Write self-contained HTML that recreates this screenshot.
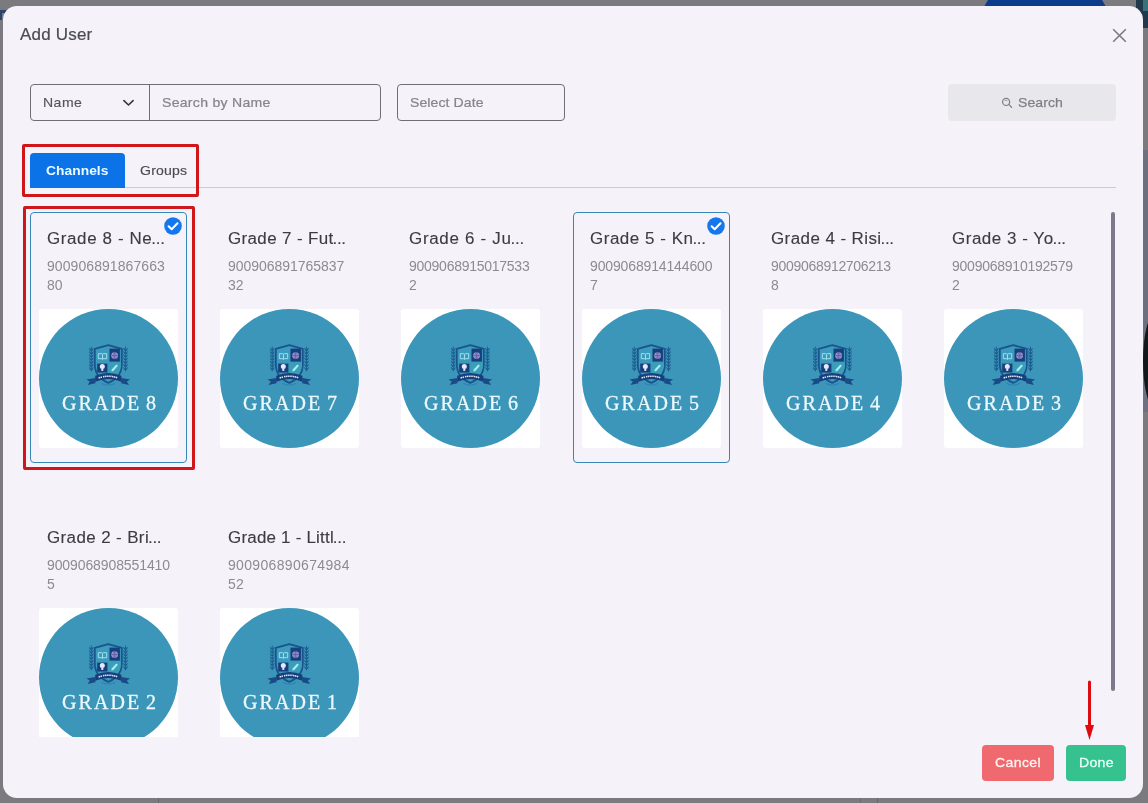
<!DOCTYPE html>
<html><head><meta charset="utf-8">
<style>
*{box-sizing:border-box;margin:0;padding:0}
html,body{width:1148px;height:803px;overflow:hidden}
body{background:#7b7b7f;font-family:"Liberation Sans",sans-serif;position:relative}
.abs{position:absolute}
#modal{position:absolute;left:3px;top:6px;width:1140px;height:791.5px;background:#f5f3f9;border-radius:14px}
.t{position:absolute;white-space:nowrap;line-height:1;will-change:transform;transform-origin:0 0}
.w8{transform:scaleX(1.08)}.w6{transform:scaleX(1.06)}
.inp{position:absolute;border:1px solid #6e6e73;border-radius:4px;background:transparent}
.card{position:absolute;width:157px;height:251px;border:1px solid transparent;border-radius:4px}
.card.sel{border-color:#3886b6}
.el{letter-spacing:-.3px;margin-left:-1px}
.card .ti{will-change:transform;transform:scaleX(1.06);transform-origin:0 0;position:absolute;left:16px;top:18px;font-size:16px;color:#3c3c42;white-space:nowrap;line-height:1;letter-spacing:1px;-webkit-text-stroke:.12px #3c3c42}
.card .nu{will-change:transform;position:absolute;left:16px;top:44px;font-size:14px;color:#8b8b90;line-height:19px;white-space:nowrap;letter-spacing:.07px}
.card .im{position:absolute;left:8px;top:96px;width:139px;height:139px;background:#fff;overflow:hidden;border-radius:3px}
.card .ci{position:absolute;left:0;top:0;width:139px;height:139px;border-radius:50%;background:#3b96b9}
.card .gr{will-change:transform;position:absolute;left:0;width:139px;top:84px;padding-left:3px;text-align:center;font-family:"Liberation Serif",serif;font-size:20px;color:#ecf8fb;letter-spacing:2.05px;word-spacing:-2.3px;-webkit-text-stroke:.3px #ecf8fb;line-height:1;white-space:nowrap}
.cr{position:absolute;left:0;top:0}
.chk{position:absolute;left:133px;top:4.4px;width:18px;height:18px}
</style></head><body>
<!-- background bits -->
<div class="abs" style="left:977px;top:-31px;width:136px;height:136px;border-radius:50%;background:#0b3d8c"></div>
<div class="abs" style="left:1136px;top:0;width:12px;height:28px;background:#22394c"></div>
<div class="abs" style="left:1143px;top:0;width:5px;height:11px;background:#35727a"></div>
<div class="abs" style="left:1142px;top:150px;width:6px;height:262px;background:#6b7180"></div>
<div class="abs" style="left:158px;top:797px;width:1px;height:6px;background:#68686c"></div><div class="abs" style="left:860px;top:797px;width:1px;height:6px;background:#6c6c70"></div><div class="abs" style="left:877px;top:797px;width:1px;height:6px;background:#68686c"></div>
<div class="abs" style="left:1142.5px;top:314px;width:24px;height:94px;border-radius:50%;background:#10191c"></div>
<div class="abs" style="left:0;top:10px;width:6px;height:3px;background:#2a456e"></div><div class="abs" style="left:0;top:10px;width:2px;height:10px;background:#2a456e"></div>
<div id="modal"></div>

<div class="t" id="title" style="left:20px;top:26px;font-size:17px;color:#4a4a52;letter-spacing:.2px;-webkit-text-stroke:.2px #4a4a52">Add User</div>
<svg class="abs" style="left:1112px;top:28px" width="15" height="15" viewBox="0 0 15 15"><path d="M1.2 1.2 L13.8 13.8 M13.8 1.2 L1.2 13.8" stroke="#77777c" stroke-width="1.5" fill="none"/></svg>

<!-- inputs -->
<div class="inp" style="left:30px;top:84px;width:351px;height:37px"></div>
<div class="abs" style="left:149px;top:84px;width:1px;height:37px;background:#6e6e73"></div>
<div class="t w8" style="left:43px;top:96px;font-size:13px;color:#55555b;letter-spacing:.43px;-webkit-text-stroke:.15px #55555b">Name</div>
<svg class="abs" style="left:122.4px;top:98.8px" width="13" height="9" viewBox="0 0 13 9"><path d="M1.9 1.6 L6.5 6 L11.1 1.6" stroke="#35353b" stroke-width="1.6" fill="none" stroke-linecap="round" stroke-linejoin="round"/></svg>
<div class="t w8" style="left:162px;top:96px;font-size:13px;color:#85858b;letter-spacing:.27px;-webkit-text-stroke:.22px #85858b">Search by Name</div>
<div class="inp" style="left:397px;top:84px;width:168px;height:37px"></div>
<div class="t w8" style="left:410px;top:96px;font-size:13px;color:#85858b;letter-spacing:.08px;-webkit-text-stroke:.22px #85858b">Select Date</div>
<div class="abs" style="left:948px;top:84px;width:168px;height:37px;background:#e8e8ec;border-radius:4px"></div>
<svg class="abs" style="left:1001.3px;top:97.4px" width="12" height="12" viewBox="0 0 12 12"><circle cx="5.1" cy="4.9" r="3.5" stroke="#7f7f87" stroke-width="1.25" fill="none"/><path d="M7.8 7.4 L10.6 10.4" stroke="#7f7f87" stroke-width="1.3" stroke-linecap="round"/><path d="M3.8 3.6 Q5 3 6.4 3.9" stroke="#7f7f87" stroke-width=".7" fill="none"/></svg>
<div class="t w8" style="left:1018px;top:96px;font-size:13px;color:#7f7f86;letter-spacing:.08px;-webkit-text-stroke:.25px #7f7f86">Search</div>

<!-- tabs -->
<div class="abs" style="left:30px;top:187px;width:1086px;height:1px;background:#cbcbd2"></div>
<div class="abs" style="left:30px;top:153px;width:95px;height:35px;background:#0c72e8;border-radius:4px 4px 0 0"></div>
<div class="t w6" style="left:46px;top:164px;font-size:13px;color:#e9fcff;font-weight:bold;letter-spacing:.05px">Channels</div>
<div class="t w8" style="left:140px;top:164px;font-size:13px;color:#4a4a50;letter-spacing:.2px;-webkit-text-stroke:.15px #4a4a50">Groups</div>
<div class="abs" style="left:22px;top:144px;width:177px;height:53px;border:3px solid #d0161b;border-radius:2px"></div>

<!-- cards -->
<div id="cards" class="abs" style="left:0;top:205px;width:1120px;height:532px;overflow:hidden">
<div class="card sel" style="left:30px;top:7px"><div class="ti" style="letter-spacing:0.58px">Grade 8 - Ne<span class='el'>...</span></div><div class="nu" style="letter-spacing:0.07px">900906891867663<br>80</div><div class="im"><div class="ci"></div><svg class="cr" width="139" height="139" viewBox="0 0 139 139">
<path d="M52.3 38 L52.3 62 M86.5 38 L86.5 62" fill="none" stroke="#1b568c" stroke-width=".8" stroke-linecap="round"/>
<path d="M52.3 41.6 L50.4 39.0 L50.8 41.2 Z M52.3 41.6 L54.199999999999996 39.0 L53.8 41.2 Z M52.3 44.8 L50.4 42.199999999999996 L50.8 44.4 Z M52.3 44.8 L54.199999999999996 42.199999999999996 L53.8 44.4 Z M52.3 48.0 L50.4 45.4 L50.8 47.6 Z M52.3 48.0 L54.199999999999996 45.4 L53.8 47.6 Z M52.3 51.199999999999996 L50.4 48.599999999999994 L50.8 50.8 Z M52.3 51.199999999999996 L54.199999999999996 48.599999999999994 L53.8 50.8 Z M52.3 54.4 L50.4 51.8 L50.8 54 Z M52.3 54.4 L54.199999999999996 51.8 L53.8 54 Z M52.3 57.6 L50.4 55.0 L50.8 57.2 Z M52.3 57.6 L54.199999999999996 55.0 L53.8 57.2 Z M52.3 60.8 L50.4 58.199999999999996 L50.8 60.4 Z M52.3 60.8 L54.199999999999996 58.199999999999996 L53.8 60.4 Z M86.5 41.6 L84.6 39.0 L85.0 41.2 Z M86.5 41.6 L88.4 39.0 L88.0 41.2 Z M86.5 44.8 L84.6 42.199999999999996 L85.0 44.4 Z M86.5 44.8 L88.4 42.199999999999996 L88.0 44.4 Z M86.5 48.0 L84.6 45.4 L85.0 47.6 Z M86.5 48.0 L88.4 45.4 L88.0 47.6 Z M86.5 51.199999999999996 L84.6 48.599999999999994 L85.0 50.8 Z M86.5 51.199999999999996 L88.4 48.599999999999994 L88.0 50.8 Z M86.5 54.4 L84.6 51.8 L85.0 54 Z M86.5 54.4 L88.4 51.8 L88.0 54 Z M86.5 57.6 L84.6 55.0 L85.0 57.2 Z M86.5 57.6 L88.4 55.0 L88.0 57.2 Z M86.5 60.8 L84.6 58.199999999999996 L85.0 60.4 Z M86.5 60.8 L88.4 58.199999999999996 L88.0 60.4 Z" fill="#1b568c" stroke="#1b568c" stroke-width=".35" stroke-linejoin="round"/>
<path d="M69.3 36.2 L82.8 39.8 L82.8 55 C82.8 65 76.5 71 69.3 73.8 C62.1 71 55.8 65 55.8 55 L55.8 39.8 Z" fill="#3c9abc" stroke="#19558c" stroke-width="1.8" stroke-linejoin="round"/>
<path d="M69.3 53.5 L82 53.5 L82 56 C81.6 63 78 68 69.3 72 Z" fill="#3b9eb9"/>
<rect x="70.5" y="39.6" width="10.4" height="13" fill="#173f7c"/>
<rect x="58.2" y="54.6" width="10.2" height="8.9" fill="#173f7c"/>
<circle cx="75.6" cy="46.6" r="3.4" fill="#a29fd6"/>
<path d="M72.2 46.6 h6.8 M75.6 43.2 v6.8" stroke="#4a4a94" stroke-width=".6"/>
<ellipse cx="75.6" cy="46.6" rx="1.6" ry="3.4" fill="none" stroke="#4a4a94" stroke-width=".5"/>
<path d="M59.3 44.7 h3.5 l.7 .6 l.7 -.6 h3.5 v5 h-3.5 l-.7 .6 l-.7 -.6 h-3.5 z M63.5 45.3 v5" fill="none" stroke="#a9e6f3" stroke-width=".9"/>
<circle cx="63.3" cy="57.6" r="2.5" fill="#e6e9fb"/><rect x="62.3" y="59.6" width="2" height="2.3" fill="#e6e9fb"/>
<path d="M72.7 60.6 L77.3 55.6 L78.9 56.8 L74.3 61.9 L72.4 62.4 Z" fill="#a9ecf4"/>
<path d="M62.5 74.4 Q69.3 77.8 76.1 74.4" stroke="#2a7db3" stroke-width=".9" fill="none"/>
<path d="M56.4 69 L47.4 70.4 L50.8 72.6 L48.6 76 L56.4 74.2 Z" fill="#194c86"/>
<path d="M82.2 69 L91.2 70.4 L87.8 72.6 L90 76 L82.2 74.2 Z" fill="#194c86"/>
<path d="M56.2 66.8 Q69.3 61.4 82.4 66.8 L82.4 72.8 Q69.3 67.4 56.2 72.8 Z" fill="#163f7c"/>
<path d="M59.6 69.1 Q69.3 65.2 79 69.1" stroke="#dfe6f4" stroke-width="1.5" stroke-dasharray="1.5 .5 1.4 1.1 1.3 .5 1.4 .5 1.3 .5 1.4 .5 1.3 .5 1.4 .5" fill="none"/>
</svg><div class="gr">GRADE 8</div></div><svg class="chk" viewBox="0 0 18 18"><circle cx="9" cy="9" r="8.8" fill="#1577ee"/><path d="M4.6 9.3 L7.7 12.3 L13.5 6.2" stroke="#fff" stroke-width="2" fill="none" stroke-linecap="round" stroke-linejoin="round"/></svg></div>
<div class="card" style="left:211px;top:7px"><div class="ti" style="letter-spacing:0.34px">Grade 7 - Fut<span class='el'>...</span></div><div class="nu" style="letter-spacing:-0.03px">900906891765837<br>32</div><div class="im"><div class="ci"></div><svg class="cr" width="139" height="139" viewBox="0 0 139 139">
<path d="M52.3 38 L52.3 62 M86.5 38 L86.5 62" fill="none" stroke="#1b568c" stroke-width=".8" stroke-linecap="round"/>
<path d="M52.3 41.6 L50.4 39.0 L50.8 41.2 Z M52.3 41.6 L54.199999999999996 39.0 L53.8 41.2 Z M52.3 44.8 L50.4 42.199999999999996 L50.8 44.4 Z M52.3 44.8 L54.199999999999996 42.199999999999996 L53.8 44.4 Z M52.3 48.0 L50.4 45.4 L50.8 47.6 Z M52.3 48.0 L54.199999999999996 45.4 L53.8 47.6 Z M52.3 51.199999999999996 L50.4 48.599999999999994 L50.8 50.8 Z M52.3 51.199999999999996 L54.199999999999996 48.599999999999994 L53.8 50.8 Z M52.3 54.4 L50.4 51.8 L50.8 54 Z M52.3 54.4 L54.199999999999996 51.8 L53.8 54 Z M52.3 57.6 L50.4 55.0 L50.8 57.2 Z M52.3 57.6 L54.199999999999996 55.0 L53.8 57.2 Z M52.3 60.8 L50.4 58.199999999999996 L50.8 60.4 Z M52.3 60.8 L54.199999999999996 58.199999999999996 L53.8 60.4 Z M86.5 41.6 L84.6 39.0 L85.0 41.2 Z M86.5 41.6 L88.4 39.0 L88.0 41.2 Z M86.5 44.8 L84.6 42.199999999999996 L85.0 44.4 Z M86.5 44.8 L88.4 42.199999999999996 L88.0 44.4 Z M86.5 48.0 L84.6 45.4 L85.0 47.6 Z M86.5 48.0 L88.4 45.4 L88.0 47.6 Z M86.5 51.199999999999996 L84.6 48.599999999999994 L85.0 50.8 Z M86.5 51.199999999999996 L88.4 48.599999999999994 L88.0 50.8 Z M86.5 54.4 L84.6 51.8 L85.0 54 Z M86.5 54.4 L88.4 51.8 L88.0 54 Z M86.5 57.6 L84.6 55.0 L85.0 57.2 Z M86.5 57.6 L88.4 55.0 L88.0 57.2 Z M86.5 60.8 L84.6 58.199999999999996 L85.0 60.4 Z M86.5 60.8 L88.4 58.199999999999996 L88.0 60.4 Z" fill="#1b568c" stroke="#1b568c" stroke-width=".35" stroke-linejoin="round"/>
<path d="M69.3 36.2 L82.8 39.8 L82.8 55 C82.8 65 76.5 71 69.3 73.8 C62.1 71 55.8 65 55.8 55 L55.8 39.8 Z" fill="#3c9abc" stroke="#19558c" stroke-width="1.8" stroke-linejoin="round"/>
<path d="M69.3 53.5 L82 53.5 L82 56 C81.6 63 78 68 69.3 72 Z" fill="#3b9eb9"/>
<rect x="70.5" y="39.6" width="10.4" height="13" fill="#173f7c"/>
<rect x="58.2" y="54.6" width="10.2" height="8.9" fill="#173f7c"/>
<circle cx="75.6" cy="46.6" r="3.4" fill="#a29fd6"/>
<path d="M72.2 46.6 h6.8 M75.6 43.2 v6.8" stroke="#4a4a94" stroke-width=".6"/>
<ellipse cx="75.6" cy="46.6" rx="1.6" ry="3.4" fill="none" stroke="#4a4a94" stroke-width=".5"/>
<path d="M59.3 44.7 h3.5 l.7 .6 l.7 -.6 h3.5 v5 h-3.5 l-.7 .6 l-.7 -.6 h-3.5 z M63.5 45.3 v5" fill="none" stroke="#a9e6f3" stroke-width=".9"/>
<circle cx="63.3" cy="57.6" r="2.5" fill="#e6e9fb"/><rect x="62.3" y="59.6" width="2" height="2.3" fill="#e6e9fb"/>
<path d="M72.7 60.6 L77.3 55.6 L78.9 56.8 L74.3 61.9 L72.4 62.4 Z" fill="#a9ecf4"/>
<path d="M62.5 74.4 Q69.3 77.8 76.1 74.4" stroke="#2a7db3" stroke-width=".9" fill="none"/>
<path d="M56.4 69 L47.4 70.4 L50.8 72.6 L48.6 76 L56.4 74.2 Z" fill="#194c86"/>
<path d="M82.2 69 L91.2 70.4 L87.8 72.6 L90 76 L82.2 74.2 Z" fill="#194c86"/>
<path d="M56.2 66.8 Q69.3 61.4 82.4 66.8 L82.4 72.8 Q69.3 67.4 56.2 72.8 Z" fill="#163f7c"/>
<path d="M59.6 69.1 Q69.3 65.2 79 69.1" stroke="#dfe6f4" stroke-width="1.5" stroke-dasharray="1.5 .5 1.4 1.1 1.3 .5 1.4 .5 1.3 .5 1.4 .5 1.3 .5 1.4 .5" fill="none"/>
</svg><div class="gr">GRADE 7</div></div></div>
<div class="card" style="left:392px;top:7px"><div class="ti" style="letter-spacing:0.66px">Grade 6 - Ju<span class='el'>...</span></div><div class="nu" style="letter-spacing:-0.26px">9009068915017533<br>2</div><div class="im"><div class="ci"></div><svg class="cr" width="139" height="139" viewBox="0 0 139 139">
<path d="M52.3 38 L52.3 62 M86.5 38 L86.5 62" fill="none" stroke="#1b568c" stroke-width=".8" stroke-linecap="round"/>
<path d="M52.3 41.6 L50.4 39.0 L50.8 41.2 Z M52.3 41.6 L54.199999999999996 39.0 L53.8 41.2 Z M52.3 44.8 L50.4 42.199999999999996 L50.8 44.4 Z M52.3 44.8 L54.199999999999996 42.199999999999996 L53.8 44.4 Z M52.3 48.0 L50.4 45.4 L50.8 47.6 Z M52.3 48.0 L54.199999999999996 45.4 L53.8 47.6 Z M52.3 51.199999999999996 L50.4 48.599999999999994 L50.8 50.8 Z M52.3 51.199999999999996 L54.199999999999996 48.599999999999994 L53.8 50.8 Z M52.3 54.4 L50.4 51.8 L50.8 54 Z M52.3 54.4 L54.199999999999996 51.8 L53.8 54 Z M52.3 57.6 L50.4 55.0 L50.8 57.2 Z M52.3 57.6 L54.199999999999996 55.0 L53.8 57.2 Z M52.3 60.8 L50.4 58.199999999999996 L50.8 60.4 Z M52.3 60.8 L54.199999999999996 58.199999999999996 L53.8 60.4 Z M86.5 41.6 L84.6 39.0 L85.0 41.2 Z M86.5 41.6 L88.4 39.0 L88.0 41.2 Z M86.5 44.8 L84.6 42.199999999999996 L85.0 44.4 Z M86.5 44.8 L88.4 42.199999999999996 L88.0 44.4 Z M86.5 48.0 L84.6 45.4 L85.0 47.6 Z M86.5 48.0 L88.4 45.4 L88.0 47.6 Z M86.5 51.199999999999996 L84.6 48.599999999999994 L85.0 50.8 Z M86.5 51.199999999999996 L88.4 48.599999999999994 L88.0 50.8 Z M86.5 54.4 L84.6 51.8 L85.0 54 Z M86.5 54.4 L88.4 51.8 L88.0 54 Z M86.5 57.6 L84.6 55.0 L85.0 57.2 Z M86.5 57.6 L88.4 55.0 L88.0 57.2 Z M86.5 60.8 L84.6 58.199999999999996 L85.0 60.4 Z M86.5 60.8 L88.4 58.199999999999996 L88.0 60.4 Z" fill="#1b568c" stroke="#1b568c" stroke-width=".35" stroke-linejoin="round"/>
<path d="M69.3 36.2 L82.8 39.8 L82.8 55 C82.8 65 76.5 71 69.3 73.8 C62.1 71 55.8 65 55.8 55 L55.8 39.8 Z" fill="#3c9abc" stroke="#19558c" stroke-width="1.8" stroke-linejoin="round"/>
<path d="M69.3 53.5 L82 53.5 L82 56 C81.6 63 78 68 69.3 72 Z" fill="#3b9eb9"/>
<rect x="70.5" y="39.6" width="10.4" height="13" fill="#173f7c"/>
<rect x="58.2" y="54.6" width="10.2" height="8.9" fill="#173f7c"/>
<circle cx="75.6" cy="46.6" r="3.4" fill="#a29fd6"/>
<path d="M72.2 46.6 h6.8 M75.6 43.2 v6.8" stroke="#4a4a94" stroke-width=".6"/>
<ellipse cx="75.6" cy="46.6" rx="1.6" ry="3.4" fill="none" stroke="#4a4a94" stroke-width=".5"/>
<path d="M59.3 44.7 h3.5 l.7 .6 l.7 -.6 h3.5 v5 h-3.5 l-.7 .6 l-.7 -.6 h-3.5 z M63.5 45.3 v5" fill="none" stroke="#a9e6f3" stroke-width=".9"/>
<circle cx="63.3" cy="57.6" r="2.5" fill="#e6e9fb"/><rect x="62.3" y="59.6" width="2" height="2.3" fill="#e6e9fb"/>
<path d="M72.7 60.6 L77.3 55.6 L78.9 56.8 L74.3 61.9 L72.4 62.4 Z" fill="#a9ecf4"/>
<path d="M62.5 74.4 Q69.3 77.8 76.1 74.4" stroke="#2a7db3" stroke-width=".9" fill="none"/>
<path d="M56.4 69 L47.4 70.4 L50.8 72.6 L48.6 76 L56.4 74.2 Z" fill="#194c86"/>
<path d="M82.2 69 L91.2 70.4 L87.8 72.6 L90 76 L82.2 74.2 Z" fill="#194c86"/>
<path d="M56.2 66.8 Q69.3 61.4 82.4 66.8 L82.4 72.8 Q69.3 67.4 56.2 72.8 Z" fill="#163f7c"/>
<path d="M59.6 69.1 Q69.3 65.2 79 69.1" stroke="#dfe6f4" stroke-width="1.5" stroke-dasharray="1.5 .5 1.4 1.1 1.3 .5 1.4 .5 1.3 .5 1.4 .5 1.3 .5 1.4 .5" fill="none"/>
</svg><div class="gr">GRADE 6</div></div></div>
<div class="card sel" style="left:573px;top:7px"><div class="ti" style="letter-spacing:0.5px">Grade 5 - Kn<span class='el'>...</span></div><div class="nu" style="letter-spacing:-0.14px">9009068914144600<br>7</div><div class="im"><div class="ci"></div><svg class="cr" width="139" height="139" viewBox="0 0 139 139">
<path d="M52.3 38 L52.3 62 M86.5 38 L86.5 62" fill="none" stroke="#1b568c" stroke-width=".8" stroke-linecap="round"/>
<path d="M52.3 41.6 L50.4 39.0 L50.8 41.2 Z M52.3 41.6 L54.199999999999996 39.0 L53.8 41.2 Z M52.3 44.8 L50.4 42.199999999999996 L50.8 44.4 Z M52.3 44.8 L54.199999999999996 42.199999999999996 L53.8 44.4 Z M52.3 48.0 L50.4 45.4 L50.8 47.6 Z M52.3 48.0 L54.199999999999996 45.4 L53.8 47.6 Z M52.3 51.199999999999996 L50.4 48.599999999999994 L50.8 50.8 Z M52.3 51.199999999999996 L54.199999999999996 48.599999999999994 L53.8 50.8 Z M52.3 54.4 L50.4 51.8 L50.8 54 Z M52.3 54.4 L54.199999999999996 51.8 L53.8 54 Z M52.3 57.6 L50.4 55.0 L50.8 57.2 Z M52.3 57.6 L54.199999999999996 55.0 L53.8 57.2 Z M52.3 60.8 L50.4 58.199999999999996 L50.8 60.4 Z M52.3 60.8 L54.199999999999996 58.199999999999996 L53.8 60.4 Z M86.5 41.6 L84.6 39.0 L85.0 41.2 Z M86.5 41.6 L88.4 39.0 L88.0 41.2 Z M86.5 44.8 L84.6 42.199999999999996 L85.0 44.4 Z M86.5 44.8 L88.4 42.199999999999996 L88.0 44.4 Z M86.5 48.0 L84.6 45.4 L85.0 47.6 Z M86.5 48.0 L88.4 45.4 L88.0 47.6 Z M86.5 51.199999999999996 L84.6 48.599999999999994 L85.0 50.8 Z M86.5 51.199999999999996 L88.4 48.599999999999994 L88.0 50.8 Z M86.5 54.4 L84.6 51.8 L85.0 54 Z M86.5 54.4 L88.4 51.8 L88.0 54 Z M86.5 57.6 L84.6 55.0 L85.0 57.2 Z M86.5 57.6 L88.4 55.0 L88.0 57.2 Z M86.5 60.8 L84.6 58.199999999999996 L85.0 60.4 Z M86.5 60.8 L88.4 58.199999999999996 L88.0 60.4 Z" fill="#1b568c" stroke="#1b568c" stroke-width=".35" stroke-linejoin="round"/>
<path d="M69.3 36.2 L82.8 39.8 L82.8 55 C82.8 65 76.5 71 69.3 73.8 C62.1 71 55.8 65 55.8 55 L55.8 39.8 Z" fill="#3c9abc" stroke="#19558c" stroke-width="1.8" stroke-linejoin="round"/>
<path d="M69.3 53.5 L82 53.5 L82 56 C81.6 63 78 68 69.3 72 Z" fill="#3b9eb9"/>
<rect x="70.5" y="39.6" width="10.4" height="13" fill="#173f7c"/>
<rect x="58.2" y="54.6" width="10.2" height="8.9" fill="#173f7c"/>
<circle cx="75.6" cy="46.6" r="3.4" fill="#a29fd6"/>
<path d="M72.2 46.6 h6.8 M75.6 43.2 v6.8" stroke="#4a4a94" stroke-width=".6"/>
<ellipse cx="75.6" cy="46.6" rx="1.6" ry="3.4" fill="none" stroke="#4a4a94" stroke-width=".5"/>
<path d="M59.3 44.7 h3.5 l.7 .6 l.7 -.6 h3.5 v5 h-3.5 l-.7 .6 l-.7 -.6 h-3.5 z M63.5 45.3 v5" fill="none" stroke="#a9e6f3" stroke-width=".9"/>
<circle cx="63.3" cy="57.6" r="2.5" fill="#e6e9fb"/><rect x="62.3" y="59.6" width="2" height="2.3" fill="#e6e9fb"/>
<path d="M72.7 60.6 L77.3 55.6 L78.9 56.8 L74.3 61.9 L72.4 62.4 Z" fill="#a9ecf4"/>
<path d="M62.5 74.4 Q69.3 77.8 76.1 74.4" stroke="#2a7db3" stroke-width=".9" fill="none"/>
<path d="M56.4 69 L47.4 70.4 L50.8 72.6 L48.6 76 L56.4 74.2 Z" fill="#194c86"/>
<path d="M82.2 69 L91.2 70.4 L87.8 72.6 L90 76 L82.2 74.2 Z" fill="#194c86"/>
<path d="M56.2 66.8 Q69.3 61.4 82.4 66.8 L82.4 72.8 Q69.3 67.4 56.2 72.8 Z" fill="#163f7c"/>
<path d="M59.6 69.1 Q69.3 65.2 79 69.1" stroke="#dfe6f4" stroke-width="1.5" stroke-dasharray="1.5 .5 1.4 1.1 1.3 .5 1.4 .5 1.3 .5 1.4 .5 1.3 .5 1.4 .5" fill="none"/>
</svg><div class="gr">GRADE 5</div></div><svg class="chk" viewBox="0 0 18 18"><circle cx="9" cy="9" r="8.8" fill="#1577ee"/><path d="M4.6 9.3 L7.7 12.3 L13.5 6.2" stroke="#fff" stroke-width="2" fill="none" stroke-linecap="round" stroke-linejoin="round"/></svg></div>
<div class="card" style="left:754px;top:7px"><div class="ti" style="letter-spacing:0.4px">Grade 4 - Risi<span class='el'>...</span></div><div class="nu" style="letter-spacing:-0.3px">9009068912706213<br>8</div><div class="im"><div class="ci"></div><svg class="cr" width="139" height="139" viewBox="0 0 139 139">
<path d="M52.3 38 L52.3 62 M86.5 38 L86.5 62" fill="none" stroke="#1b568c" stroke-width=".8" stroke-linecap="round"/>
<path d="M52.3 41.6 L50.4 39.0 L50.8 41.2 Z M52.3 41.6 L54.199999999999996 39.0 L53.8 41.2 Z M52.3 44.8 L50.4 42.199999999999996 L50.8 44.4 Z M52.3 44.8 L54.199999999999996 42.199999999999996 L53.8 44.4 Z M52.3 48.0 L50.4 45.4 L50.8 47.6 Z M52.3 48.0 L54.199999999999996 45.4 L53.8 47.6 Z M52.3 51.199999999999996 L50.4 48.599999999999994 L50.8 50.8 Z M52.3 51.199999999999996 L54.199999999999996 48.599999999999994 L53.8 50.8 Z M52.3 54.4 L50.4 51.8 L50.8 54 Z M52.3 54.4 L54.199999999999996 51.8 L53.8 54 Z M52.3 57.6 L50.4 55.0 L50.8 57.2 Z M52.3 57.6 L54.199999999999996 55.0 L53.8 57.2 Z M52.3 60.8 L50.4 58.199999999999996 L50.8 60.4 Z M52.3 60.8 L54.199999999999996 58.199999999999996 L53.8 60.4 Z M86.5 41.6 L84.6 39.0 L85.0 41.2 Z M86.5 41.6 L88.4 39.0 L88.0 41.2 Z M86.5 44.8 L84.6 42.199999999999996 L85.0 44.4 Z M86.5 44.8 L88.4 42.199999999999996 L88.0 44.4 Z M86.5 48.0 L84.6 45.4 L85.0 47.6 Z M86.5 48.0 L88.4 45.4 L88.0 47.6 Z M86.5 51.199999999999996 L84.6 48.599999999999994 L85.0 50.8 Z M86.5 51.199999999999996 L88.4 48.599999999999994 L88.0 50.8 Z M86.5 54.4 L84.6 51.8 L85.0 54 Z M86.5 54.4 L88.4 51.8 L88.0 54 Z M86.5 57.6 L84.6 55.0 L85.0 57.2 Z M86.5 57.6 L88.4 55.0 L88.0 57.2 Z M86.5 60.8 L84.6 58.199999999999996 L85.0 60.4 Z M86.5 60.8 L88.4 58.199999999999996 L88.0 60.4 Z" fill="#1b568c" stroke="#1b568c" stroke-width=".35" stroke-linejoin="round"/>
<path d="M69.3 36.2 L82.8 39.8 L82.8 55 C82.8 65 76.5 71 69.3 73.8 C62.1 71 55.8 65 55.8 55 L55.8 39.8 Z" fill="#3c9abc" stroke="#19558c" stroke-width="1.8" stroke-linejoin="round"/>
<path d="M69.3 53.5 L82 53.5 L82 56 C81.6 63 78 68 69.3 72 Z" fill="#3b9eb9"/>
<rect x="70.5" y="39.6" width="10.4" height="13" fill="#173f7c"/>
<rect x="58.2" y="54.6" width="10.2" height="8.9" fill="#173f7c"/>
<circle cx="75.6" cy="46.6" r="3.4" fill="#a29fd6"/>
<path d="M72.2 46.6 h6.8 M75.6 43.2 v6.8" stroke="#4a4a94" stroke-width=".6"/>
<ellipse cx="75.6" cy="46.6" rx="1.6" ry="3.4" fill="none" stroke="#4a4a94" stroke-width=".5"/>
<path d="M59.3 44.7 h3.5 l.7 .6 l.7 -.6 h3.5 v5 h-3.5 l-.7 .6 l-.7 -.6 h-3.5 z M63.5 45.3 v5" fill="none" stroke="#a9e6f3" stroke-width=".9"/>
<circle cx="63.3" cy="57.6" r="2.5" fill="#e6e9fb"/><rect x="62.3" y="59.6" width="2" height="2.3" fill="#e6e9fb"/>
<path d="M72.7 60.6 L77.3 55.6 L78.9 56.8 L74.3 61.9 L72.4 62.4 Z" fill="#a9ecf4"/>
<path d="M62.5 74.4 Q69.3 77.8 76.1 74.4" stroke="#2a7db3" stroke-width=".9" fill="none"/>
<path d="M56.4 69 L47.4 70.4 L50.8 72.6 L48.6 76 L56.4 74.2 Z" fill="#194c86"/>
<path d="M82.2 69 L91.2 70.4 L87.8 72.6 L90 76 L82.2 74.2 Z" fill="#194c86"/>
<path d="M56.2 66.8 Q69.3 61.4 82.4 66.8 L82.4 72.8 Q69.3 67.4 56.2 72.8 Z" fill="#163f7c"/>
<path d="M59.6 69.1 Q69.3 65.2 79 69.1" stroke="#dfe6f4" stroke-width="1.5" stroke-dasharray="1.5 .5 1.4 1.1 1.3 .5 1.4 .5 1.3 .5 1.4 .5 1.3 .5 1.4 .5" fill="none"/>
</svg><div class="gr">GRADE 4</div></div></div>
<div class="card" style="left:935px;top:7px"><div class="ti" style="letter-spacing:0.5px">Grade 3 - Yo<span class='el'>...</span></div><div class="nu" style="letter-spacing:-0.24px">9009068910192579<br>2</div><div class="im"><div class="ci"></div><svg class="cr" width="139" height="139" viewBox="0 0 139 139">
<path d="M52.3 38 L52.3 62 M86.5 38 L86.5 62" fill="none" stroke="#1b568c" stroke-width=".8" stroke-linecap="round"/>
<path d="M52.3 41.6 L50.4 39.0 L50.8 41.2 Z M52.3 41.6 L54.199999999999996 39.0 L53.8 41.2 Z M52.3 44.8 L50.4 42.199999999999996 L50.8 44.4 Z M52.3 44.8 L54.199999999999996 42.199999999999996 L53.8 44.4 Z M52.3 48.0 L50.4 45.4 L50.8 47.6 Z M52.3 48.0 L54.199999999999996 45.4 L53.8 47.6 Z M52.3 51.199999999999996 L50.4 48.599999999999994 L50.8 50.8 Z M52.3 51.199999999999996 L54.199999999999996 48.599999999999994 L53.8 50.8 Z M52.3 54.4 L50.4 51.8 L50.8 54 Z M52.3 54.4 L54.199999999999996 51.8 L53.8 54 Z M52.3 57.6 L50.4 55.0 L50.8 57.2 Z M52.3 57.6 L54.199999999999996 55.0 L53.8 57.2 Z M52.3 60.8 L50.4 58.199999999999996 L50.8 60.4 Z M52.3 60.8 L54.199999999999996 58.199999999999996 L53.8 60.4 Z M86.5 41.6 L84.6 39.0 L85.0 41.2 Z M86.5 41.6 L88.4 39.0 L88.0 41.2 Z M86.5 44.8 L84.6 42.199999999999996 L85.0 44.4 Z M86.5 44.8 L88.4 42.199999999999996 L88.0 44.4 Z M86.5 48.0 L84.6 45.4 L85.0 47.6 Z M86.5 48.0 L88.4 45.4 L88.0 47.6 Z M86.5 51.199999999999996 L84.6 48.599999999999994 L85.0 50.8 Z M86.5 51.199999999999996 L88.4 48.599999999999994 L88.0 50.8 Z M86.5 54.4 L84.6 51.8 L85.0 54 Z M86.5 54.4 L88.4 51.8 L88.0 54 Z M86.5 57.6 L84.6 55.0 L85.0 57.2 Z M86.5 57.6 L88.4 55.0 L88.0 57.2 Z M86.5 60.8 L84.6 58.199999999999996 L85.0 60.4 Z M86.5 60.8 L88.4 58.199999999999996 L88.0 60.4 Z" fill="#1b568c" stroke="#1b568c" stroke-width=".35" stroke-linejoin="round"/>
<path d="M69.3 36.2 L82.8 39.8 L82.8 55 C82.8 65 76.5 71 69.3 73.8 C62.1 71 55.8 65 55.8 55 L55.8 39.8 Z" fill="#3c9abc" stroke="#19558c" stroke-width="1.8" stroke-linejoin="round"/>
<path d="M69.3 53.5 L82 53.5 L82 56 C81.6 63 78 68 69.3 72 Z" fill="#3b9eb9"/>
<rect x="70.5" y="39.6" width="10.4" height="13" fill="#173f7c"/>
<rect x="58.2" y="54.6" width="10.2" height="8.9" fill="#173f7c"/>
<circle cx="75.6" cy="46.6" r="3.4" fill="#a29fd6"/>
<path d="M72.2 46.6 h6.8 M75.6 43.2 v6.8" stroke="#4a4a94" stroke-width=".6"/>
<ellipse cx="75.6" cy="46.6" rx="1.6" ry="3.4" fill="none" stroke="#4a4a94" stroke-width=".5"/>
<path d="M59.3 44.7 h3.5 l.7 .6 l.7 -.6 h3.5 v5 h-3.5 l-.7 .6 l-.7 -.6 h-3.5 z M63.5 45.3 v5" fill="none" stroke="#a9e6f3" stroke-width=".9"/>
<circle cx="63.3" cy="57.6" r="2.5" fill="#e6e9fb"/><rect x="62.3" y="59.6" width="2" height="2.3" fill="#e6e9fb"/>
<path d="M72.7 60.6 L77.3 55.6 L78.9 56.8 L74.3 61.9 L72.4 62.4 Z" fill="#a9ecf4"/>
<path d="M62.5 74.4 Q69.3 77.8 76.1 74.4" stroke="#2a7db3" stroke-width=".9" fill="none"/>
<path d="M56.4 69 L47.4 70.4 L50.8 72.6 L48.6 76 L56.4 74.2 Z" fill="#194c86"/>
<path d="M82.2 69 L91.2 70.4 L87.8 72.6 L90 76 L82.2 74.2 Z" fill="#194c86"/>
<path d="M56.2 66.8 Q69.3 61.4 82.4 66.8 L82.4 72.8 Q69.3 67.4 56.2 72.8 Z" fill="#163f7c"/>
<path d="M59.6 69.1 Q69.3 65.2 79 69.1" stroke="#dfe6f4" stroke-width="1.5" stroke-dasharray="1.5 .5 1.4 1.1 1.3 .5 1.4 .5 1.3 .5 1.4 .5 1.3 .5 1.4 .5" fill="none"/>
</svg><div class="gr">GRADE 3</div></div></div>
<div class="card" style="left:30px;top:306px"><div class="ti" style="letter-spacing:0.36px">Grade 2 - Bri<span class='el'>...</span></div><div class="nu" style="letter-spacing:-0.1px">9009068908551410<br>5</div><div class="im"><div class="ci"></div><svg class="cr" width="139" height="139" viewBox="0 0 139 139">
<path d="M52.3 38 L52.3 62 M86.5 38 L86.5 62" fill="none" stroke="#1b568c" stroke-width=".8" stroke-linecap="round"/>
<path d="M52.3 41.6 L50.4 39.0 L50.8 41.2 Z M52.3 41.6 L54.199999999999996 39.0 L53.8 41.2 Z M52.3 44.8 L50.4 42.199999999999996 L50.8 44.4 Z M52.3 44.8 L54.199999999999996 42.199999999999996 L53.8 44.4 Z M52.3 48.0 L50.4 45.4 L50.8 47.6 Z M52.3 48.0 L54.199999999999996 45.4 L53.8 47.6 Z M52.3 51.199999999999996 L50.4 48.599999999999994 L50.8 50.8 Z M52.3 51.199999999999996 L54.199999999999996 48.599999999999994 L53.8 50.8 Z M52.3 54.4 L50.4 51.8 L50.8 54 Z M52.3 54.4 L54.199999999999996 51.8 L53.8 54 Z M52.3 57.6 L50.4 55.0 L50.8 57.2 Z M52.3 57.6 L54.199999999999996 55.0 L53.8 57.2 Z M52.3 60.8 L50.4 58.199999999999996 L50.8 60.4 Z M52.3 60.8 L54.199999999999996 58.199999999999996 L53.8 60.4 Z M86.5 41.6 L84.6 39.0 L85.0 41.2 Z M86.5 41.6 L88.4 39.0 L88.0 41.2 Z M86.5 44.8 L84.6 42.199999999999996 L85.0 44.4 Z M86.5 44.8 L88.4 42.199999999999996 L88.0 44.4 Z M86.5 48.0 L84.6 45.4 L85.0 47.6 Z M86.5 48.0 L88.4 45.4 L88.0 47.6 Z M86.5 51.199999999999996 L84.6 48.599999999999994 L85.0 50.8 Z M86.5 51.199999999999996 L88.4 48.599999999999994 L88.0 50.8 Z M86.5 54.4 L84.6 51.8 L85.0 54 Z M86.5 54.4 L88.4 51.8 L88.0 54 Z M86.5 57.6 L84.6 55.0 L85.0 57.2 Z M86.5 57.6 L88.4 55.0 L88.0 57.2 Z M86.5 60.8 L84.6 58.199999999999996 L85.0 60.4 Z M86.5 60.8 L88.4 58.199999999999996 L88.0 60.4 Z" fill="#1b568c" stroke="#1b568c" stroke-width=".35" stroke-linejoin="round"/>
<path d="M69.3 36.2 L82.8 39.8 L82.8 55 C82.8 65 76.5 71 69.3 73.8 C62.1 71 55.8 65 55.8 55 L55.8 39.8 Z" fill="#3c9abc" stroke="#19558c" stroke-width="1.8" stroke-linejoin="round"/>
<path d="M69.3 53.5 L82 53.5 L82 56 C81.6 63 78 68 69.3 72 Z" fill="#3b9eb9"/>
<rect x="70.5" y="39.6" width="10.4" height="13" fill="#173f7c"/>
<rect x="58.2" y="54.6" width="10.2" height="8.9" fill="#173f7c"/>
<circle cx="75.6" cy="46.6" r="3.4" fill="#a29fd6"/>
<path d="M72.2 46.6 h6.8 M75.6 43.2 v6.8" stroke="#4a4a94" stroke-width=".6"/>
<ellipse cx="75.6" cy="46.6" rx="1.6" ry="3.4" fill="none" stroke="#4a4a94" stroke-width=".5"/>
<path d="M59.3 44.7 h3.5 l.7 .6 l.7 -.6 h3.5 v5 h-3.5 l-.7 .6 l-.7 -.6 h-3.5 z M63.5 45.3 v5" fill="none" stroke="#a9e6f3" stroke-width=".9"/>
<circle cx="63.3" cy="57.6" r="2.5" fill="#e6e9fb"/><rect x="62.3" y="59.6" width="2" height="2.3" fill="#e6e9fb"/>
<path d="M72.7 60.6 L77.3 55.6 L78.9 56.8 L74.3 61.9 L72.4 62.4 Z" fill="#a9ecf4"/>
<path d="M62.5 74.4 Q69.3 77.8 76.1 74.4" stroke="#2a7db3" stroke-width=".9" fill="none"/>
<path d="M56.4 69 L47.4 70.4 L50.8 72.6 L48.6 76 L56.4 74.2 Z" fill="#194c86"/>
<path d="M82.2 69 L91.2 70.4 L87.8 72.6 L90 76 L82.2 74.2 Z" fill="#194c86"/>
<path d="M56.2 66.8 Q69.3 61.4 82.4 66.8 L82.4 72.8 Q69.3 67.4 56.2 72.8 Z" fill="#163f7c"/>
<path d="M59.6 69.1 Q69.3 65.2 79 69.1" stroke="#dfe6f4" stroke-width="1.5" stroke-dasharray="1.5 .5 1.4 1.1 1.3 .5 1.4 .5 1.3 .5 1.4 .5 1.3 .5 1.4 .5" fill="none"/>
</svg><div class="gr">GRADE 2</div></div></div>
<div class="card" style="left:211px;top:306px"><div class="ti" style="letter-spacing:0.2px">Grade 1 - Littl<span class='el'>...</span></div><div class="nu" style="letter-spacing:0.33px">900906890674984<br>52</div><div class="im"><div class="ci"></div><svg class="cr" width="139" height="139" viewBox="0 0 139 139">
<path d="M52.3 38 L52.3 62 M86.5 38 L86.5 62" fill="none" stroke="#1b568c" stroke-width=".8" stroke-linecap="round"/>
<path d="M52.3 41.6 L50.4 39.0 L50.8 41.2 Z M52.3 41.6 L54.199999999999996 39.0 L53.8 41.2 Z M52.3 44.8 L50.4 42.199999999999996 L50.8 44.4 Z M52.3 44.8 L54.199999999999996 42.199999999999996 L53.8 44.4 Z M52.3 48.0 L50.4 45.4 L50.8 47.6 Z M52.3 48.0 L54.199999999999996 45.4 L53.8 47.6 Z M52.3 51.199999999999996 L50.4 48.599999999999994 L50.8 50.8 Z M52.3 51.199999999999996 L54.199999999999996 48.599999999999994 L53.8 50.8 Z M52.3 54.4 L50.4 51.8 L50.8 54 Z M52.3 54.4 L54.199999999999996 51.8 L53.8 54 Z M52.3 57.6 L50.4 55.0 L50.8 57.2 Z M52.3 57.6 L54.199999999999996 55.0 L53.8 57.2 Z M52.3 60.8 L50.4 58.199999999999996 L50.8 60.4 Z M52.3 60.8 L54.199999999999996 58.199999999999996 L53.8 60.4 Z M86.5 41.6 L84.6 39.0 L85.0 41.2 Z M86.5 41.6 L88.4 39.0 L88.0 41.2 Z M86.5 44.8 L84.6 42.199999999999996 L85.0 44.4 Z M86.5 44.8 L88.4 42.199999999999996 L88.0 44.4 Z M86.5 48.0 L84.6 45.4 L85.0 47.6 Z M86.5 48.0 L88.4 45.4 L88.0 47.6 Z M86.5 51.199999999999996 L84.6 48.599999999999994 L85.0 50.8 Z M86.5 51.199999999999996 L88.4 48.599999999999994 L88.0 50.8 Z M86.5 54.4 L84.6 51.8 L85.0 54 Z M86.5 54.4 L88.4 51.8 L88.0 54 Z M86.5 57.6 L84.6 55.0 L85.0 57.2 Z M86.5 57.6 L88.4 55.0 L88.0 57.2 Z M86.5 60.8 L84.6 58.199999999999996 L85.0 60.4 Z M86.5 60.8 L88.4 58.199999999999996 L88.0 60.4 Z" fill="#1b568c" stroke="#1b568c" stroke-width=".35" stroke-linejoin="round"/>
<path d="M69.3 36.2 L82.8 39.8 L82.8 55 C82.8 65 76.5 71 69.3 73.8 C62.1 71 55.8 65 55.8 55 L55.8 39.8 Z" fill="#3c9abc" stroke="#19558c" stroke-width="1.8" stroke-linejoin="round"/>
<path d="M69.3 53.5 L82 53.5 L82 56 C81.6 63 78 68 69.3 72 Z" fill="#3b9eb9"/>
<rect x="70.5" y="39.6" width="10.4" height="13" fill="#173f7c"/>
<rect x="58.2" y="54.6" width="10.2" height="8.9" fill="#173f7c"/>
<circle cx="75.6" cy="46.6" r="3.4" fill="#a29fd6"/>
<path d="M72.2 46.6 h6.8 M75.6 43.2 v6.8" stroke="#4a4a94" stroke-width=".6"/>
<ellipse cx="75.6" cy="46.6" rx="1.6" ry="3.4" fill="none" stroke="#4a4a94" stroke-width=".5"/>
<path d="M59.3 44.7 h3.5 l.7 .6 l.7 -.6 h3.5 v5 h-3.5 l-.7 .6 l-.7 -.6 h-3.5 z M63.5 45.3 v5" fill="none" stroke="#a9e6f3" stroke-width=".9"/>
<circle cx="63.3" cy="57.6" r="2.5" fill="#e6e9fb"/><rect x="62.3" y="59.6" width="2" height="2.3" fill="#e6e9fb"/>
<path d="M72.7 60.6 L77.3 55.6 L78.9 56.8 L74.3 61.9 L72.4 62.4 Z" fill="#a9ecf4"/>
<path d="M62.5 74.4 Q69.3 77.8 76.1 74.4" stroke="#2a7db3" stroke-width=".9" fill="none"/>
<path d="M56.4 69 L47.4 70.4 L50.8 72.6 L48.6 76 L56.4 74.2 Z" fill="#194c86"/>
<path d="M82.2 69 L91.2 70.4 L87.8 72.6 L90 76 L82.2 74.2 Z" fill="#194c86"/>
<path d="M56.2 66.8 Q69.3 61.4 82.4 66.8 L82.4 72.8 Q69.3 67.4 56.2 72.8 Z" fill="#163f7c"/>
<path d="M59.6 69.1 Q69.3 65.2 79 69.1" stroke="#dfe6f4" stroke-width="1.5" stroke-dasharray="1.5 .5 1.4 1.1 1.3 .5 1.4 .5 1.3 .5 1.4 .5 1.3 .5 1.4 .5" fill="none"/>
</svg><div class="gr">GRADE 1</div></div></div>
</div>
<div class="abs" style="left:23px;top:206px;width:172px;height:264px;border:3px solid #d0161b;border-radius:2px"></div>

<!-- scrollbar -->
<div class="abs" style="left:1111px;top:212px;width:4px;height:479px;background:#7a7a8b;border-radius:2px"></div>

<!-- buttons -->
<div class="abs" style="left:982px;top:745px;width:72px;height:36px;background:#f0696e;border-radius:4px"></div>
<div class="t w8" style="left:995px;top:756px;font-size:13px;color:#fff3f3;letter-spacing:.37px;-webkit-text-stroke:.3px #fff3f3">Cancel</div>
<div class="abs" style="left:1066px;top:745px;width:60px;height:36px;background:#35c28e;border-radius:4px"></div>
<div class="t w8" style="left:1079px;top:756px;font-size:13px;color:#e8fff8;letter-spacing:.3px;-webkit-text-stroke:.3px #e8fff8">Done</div>
<svg class="abs" style="left:1080px;top:680px" width="20" height="62" viewBox="0 0 20 62"><path d="M9.5 2 L9.5 48" stroke="#de0c10" stroke-width="3" stroke-linecap="round"/><path d="M5 45 L14 45 L9.5 60 Z" fill="#de0c10"/></svg>

</body></html>
